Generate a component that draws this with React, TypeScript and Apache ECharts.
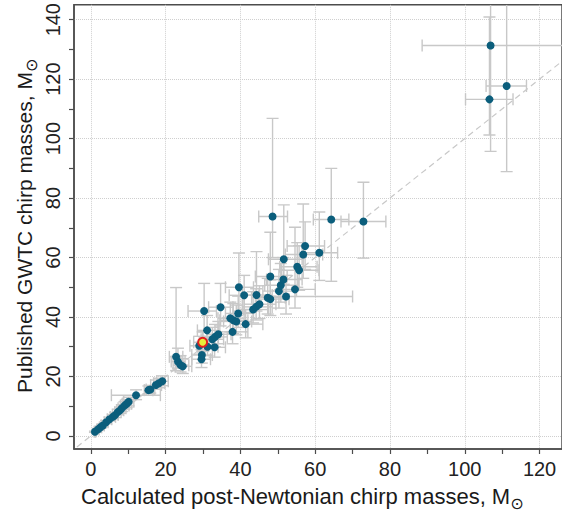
import React, { useEffect, useRef } from "react";
import * as echarts from "echarts";

// Calculated post-Newtonian chirp masses (x) and published GWTC chirp masses (y), in solar masses
const pnChirp = [
  1.1, 1.9, 2.6, 3.2, 4.1, 5.0, 5.9, 6.5, 7.2, 7.8, 8.3, 9.0, 9.6, 10.1, 12.1, 15.4, 15.9, 17.4, 18.2, 19.1,
  22.8, 23.3, 24.0, 24.6, 29.0, 29.9, 29.7, 29.6, 31.2, 33.1, 30.3, 31.1, 32.5, 33.2, 34.1, 34.7, 37.3, 38.1,
  38.9, 37.9, 39.4, 41.4, 39.6, 41.0, 43.4, 44.2, 45.1, 44.3, 47.3, 48.0, 48.0, 50.3, 50.8, 51.5, 51.6, 52.2,
  54.6, 55.2, 55.7, 56.8, 57.3, 61.1, 48.6, 64.3, 72.9, 106.6, 106.9, 111.2,
];
const gwtcChirp = [
  1.4, 2.2, 2.9, 3.5, 4.6, 5.6, 6.4, 7.0, 8.0, 8.6, 9.3, 10.2, 10.8, 11.5, 13.7, 15.4, 15.6, 17.1, 17.7, 18.4,
  26.6, 25.0, 23.8, 23.4, 30.3, 31.5, 27.2, 25.8, 30.0, 29.8, 42.0, 35.5, 32.5, 33.3, 34.2, 43.3, 39.6, 38.9,
  38.5, 35.0, 41.2, 37.6, 50.0, 47.3, 42.5, 43.4, 44.3, 47.4, 46.5, 46.0, 53.6, 48.7, 50.7, 52.6, 59.4, 46.9,
  49.3, 56.9, 55.7, 61.0, 63.9, 61.6, 73.8, 72.8, 72.1, 113.2, 131.3, 117.7,
];
const pnLower = [
  0.9, 1.6, 2.3, 2.8, 3.6, 4.4, 5.2, 5.8, 6.4, 6.9, 7.3, 7.9, 8.4, 8.8, 5.5, 14.3, 14.8, 16.0, 16.8, 17.6,
  21.0, 21.5, 22.0, 22.6, 26.5, 27.5, 27.0, 27.0, 28.5, 30.5, 26.0, 28.5, 29.5, 30.0, 31.0, 31.5, 34.0, 34.5,
  35.5, 34.5, 36.0, 38.0, 36.0, 37.0, 39.5, 40.5, 41.0, 40.5, 43.0, 44.0, 44.0, 46.0, 46.5, 47.0, 47.5, 45.0,
  50.0, 50.5, 51.0, 52.0, 52.5, 56.5, 44.9, 59.5, 66.9, 100.2, 88.6, 105.7,
];
const pnUpper = [
  1.3, 2.2, 2.9, 3.6, 4.6, 5.6, 6.6, 7.3, 8.1, 8.8, 9.4, 10.2, 10.9, 11.5, 18.6, 16.6, 17.1, 18.9, 19.8, 20.7,
  24.6, 25.2, 26.2, 27.0, 31.5, 32.5, 32.5, 32.0, 34.0, 36.0, 33.6, 34.0, 35.5, 36.5, 37.5, 38.0, 41.0, 42.0,
  43.0, 42.0, 43.5, 46.0, 43.5, 45.0, 47.5, 48.5, 49.5, 48.5, 52.0, 53.0, 52.5, 55.0, 55.5, 56.5, 56.5, 70.0,
  60.0, 60.5, 61.0, 62.0, 62.5, 66.0, 52.6, 69.0, 78.9, 112.9, 145.0, 116.5,
];
const gwtcLower = [
  1.2, 1.9, 2.6, 3.1, 4.1, 5.0, 5.7, 6.2, 7.1, 7.6, 8.2, 9.0, 9.5, 10.1, 12.2, 14.2, 14.4, 15.7, 16.2, 16.9,
  22.0, 22.8, 21.5, 21.0, 27.5, 28.5, 24.5, 23.0, 27.0, 26.5, 35.0, 32.0, 29.5, 30.0, 31.0, 37.0, 35.0, 34.5,
  34.0, 31.0, 36.5, 33.0, 42.0, 41.5, 38.0, 39.0, 39.5, 42.0, 41.0, 40.5, 47.0, 43.0, 45.0, 46.5, 51.0, 41.0,
  43.0, 50.0, 49.0, 53.0, 56.0, 52.3, 60.0, 52.0, 59.8, 101.2, 95.7, 88.9,
];
const gwtcUpper = [
  1.6, 2.5, 3.3, 4.0, 5.2, 6.3, 7.2, 7.9, 9.0, 9.7, 10.5, 11.5, 12.2, 13.0, 15.5, 16.8, 17.0, 18.8, 19.4, 20.2,
  49.9, 29.5, 27.0, 26.0, 33.5, 35.0, 30.5, 29.0, 33.5, 33.0, 51.3, 40.5, 36.5, 37.5, 38.5, 51.3, 45.0, 44.5,
  44.0, 40.0, 47.0, 42.5, 61.5, 54.0, 48.5, 49.5, 50.5, 62.0, 53.0, 52.5, 68.5, 56.0, 58.0, 60.0, 77.7, 54.0,
  70.2, 65.0, 64.0, 78.0, 72.0, 75.3, 106.8, 90.0, 85.3, 140.9, 160.0, 160.0,
];
const highlightIndex = 25;

const xRange = [-4.5, 126];
const yRange = [-4.4, 145];
const xTickValues = [0, 10, 20, 30, 40, 50, 60, 70, 80, 90, 100, 110, 120];
const xLabelValues = [0, 20, 40, 60, 80, 100, 120];
const yTickValues = [0, 10, 20, 30, 40, 50, 60, 70, 80, 90, 100, 110, 120, 130, 140];
const yLabelValues = [0, 20, 40, 60, 80, 100, 120, 140];
const diagonal = [-10, 160];

const xTitle = "Calculated post-Newtonian chirp masses, M";
const yTitle = "Published GWTC chirp masses, M";
const sun = "\u2299";

const FONT = "'Liberation Sans', Arial, sans-serif";
const AXIS = "#4d4d4d";
const TEAL = "#0b5e7c";
const ERR = "#c8c8c8";
const GRIDLINE = { show: true, lineStyle: { color: "#cfcfcf", type: "dotted", width: 1 } };

function rich(size: number) {
  return {
    a: { fontSize: size, fontFamily: FONT, fill: "#1a1a1a", lineHeight: 30 },
    s: { fontSize: 16, fontFamily: "'DejaVu Sans', sans-serif", fill: "#1a1a1a", lineHeight: 15, verticalAlign: "bottom" },
  };
}

export default function App() {
  const ref = useRef<HTMLDivElement>(null);
  useEffect(() => {
    if (!ref.current) return;
    const chart = echarts.init(ref.current, undefined, { renderer: "svg" });
    const rows = pnChirp.map((x, i) => [x, gwtcChirp[i], pnLower[i], pnUpper[i], gwtcLower[i], gwtcUpper[i]]);
    const points = pnChirp.map((x, i) => [x, gwtcChirp[i]]);

    const option: any = {
      animation: false,
      backgroundColor: "#ffffff",
      grid: {
        left: 74, top: 4, width: 494, height: 445,
        show: true, borderColor: AXIS, borderWidth: 1.5, backgroundColor: "transparent",
      },
      xAxis: [
        {
          type: "value", min: xRange[0], max: xRange[1], position: "bottom",
          axisLine: { show: true, onZero: false, lineStyle: { color: AXIS, width: 1.5 } },
          axisTick: { show: true, length: 5, customValues: xTickValues, lineStyle: { color: AXIS, width: 1.2 } },
          axisLabel: { customValues: xLabelValues, margin: 10, fontSize: 20, color: "#222", fontFamily: FONT },
          splitLine: { show: false },
          z: 5,
        },
        {
          type: "value", min: xRange[0], max: xRange[1], position: "top",
          axisLine: { show: false },
          axisTick: { show: false, customValues: xLabelValues },
          axisLabel: { show: false, customValues: xLabelValues },
          splitLine: GRIDLINE,
          z: 0,
        },
      ],
      yAxis: [
        {
          type: "value", min: yRange[0], max: yRange[1], position: "left",
          axisLine: { show: true, onZero: false, lineStyle: { color: AXIS, width: 1.5 } },
          axisTick: { show: true, length: 5, customValues: yTickValues, lineStyle: { color: AXIS, width: 1.2 } },
          axisLabel: {
            customValues: yLabelValues, rotate: 90, align: "center", verticalAlign: "middle",
            margin: 21, fontSize: 20, color: "#222", fontFamily: FONT,
          },
          splitLine: { show: false },
          z: 5,
        },
        {
          type: "value", min: yRange[0], max: yRange[1], position: "right",
          axisLine: { show: false },
          axisTick: { show: false, customValues: yLabelValues },
          axisLabel: { show: false, customValues: yLabelValues },
          splitLine: GRIDLINE,
          z: 0,
        },
      ],
      graphic: [
        {
          type: "text", x: 81, y: 496, silent: true,
          style: { text: `{a|${xTitle}}{s|${sun}}`, rich: rich(22), align: "left", verticalAlign: "middle" },
        },
        {
          type: "text", x: 24, y: 393, rotation: Math.PI / 2, silent: true,
          style: { text: `{a|${yTitle}}{s|${sun}}`, rich: rich(21), align: "left", verticalAlign: "middle" },
        },
      ],
      series: [
        {
          type: "line", data: diagonal.map((v) => [v, v]), showSymbol: false, silent: true, z: 1,
          lineStyle: { color: "#c8c8c8", width: 1.2, type: [6, 4] },
        },
        {
          type: "custom", z: 2, silent: true, clip: true,
          data: rows,
          encode: { x: 0, y: 1 },
          renderItem: (params: any, api: any) => {
            const cs = params.coordSys;
            const x0 = cs.x, x1 = cs.x + cs.width, y0 = cs.y, y1 = cs.y + cs.height;
            const vx = api.value(0), vy = api.value(1);
            const [cx, cy] = api.coord([vx, vy]);
            const xl = api.coord([api.value(2), vy])[0];
            const xh = api.coord([api.value(3), vy])[0];
            const yl = api.coord([vx, api.value(4)])[1];
            const yh = api.coord([vx, api.value(5)])[1];
            const cx1 = (v: number) => Math.max(x0, Math.min(x1, v));
            const cy1 = (v: number) => Math.max(y0, Math.min(y1, v));
            const cap = 6;
            const style = { stroke: ERR, lineWidth: 1.4, fill: "none" };
            const ch: any[] = [];
            ch.push({ type: "line", shape: { x1: cx1(xl), y1: cy, x2: cx1(xh), y2: cy }, style });
            if (xl >= x0) ch.push({ type: "line", shape: { x1: xl, y1: cy - cap, x2: xl, y2: cy + cap }, style });
            if (xh <= x1) ch.push({ type: "line", shape: { x1: xh, y1: cy - cap, x2: xh, y2: cy + cap }, style });
            ch.push({ type: "line", shape: { x1: cx, y1: cy1(yh), x2: cx, y2: cy1(yl) }, style });
            if (yh >= y0) ch.push({ type: "line", shape: { x1: cx - cap, y1: yh, x2: cx + cap, y2: yh }, style });
            if (yl <= y1) ch.push({ type: "line", shape: { x1: cx - cap, y1: yl, x2: cx + cap, y2: yl }, style });
            return { type: "group", children: ch };
          },
        },
        {
          type: "scatter", z: 3, data: points, symbol: "circle", symbolSize: 8, silent: true,
          itemStyle: { color: TEAL, opacity: 1 },
        },
        {
          type: "scatter", z: 4, data: [points[highlightIndex]], symbol: "circle", symbolSize: 9, silent: true,
          itemStyle: { color: "#e6ee3a", borderColor: "#e02020", borderWidth: 2, opacity: 1 },
        },
      ],
    };
    chart.setOption(option);
    return () => chart.dispose();
  }, []);
  return <div ref={ref} style={{ position: "absolute", left: 0, top: 0, width: 562, height: 512, background: "#fff" }} />;
}
